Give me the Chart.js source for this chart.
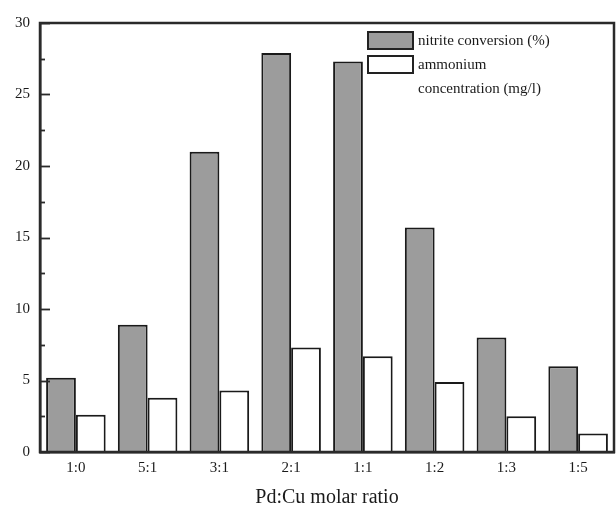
<!DOCTYPE html>
<html>
<head>
<meta charset="utf-8">
<script src="https://cdn.jsdelivr.net/npm/chart.js@4/dist/chart.umd.min.js"></script>
<style>
  body { margin: 0; background: #fff; }
  #wrap { width: 616px; height: 510px; }
</style>
</head>
<body>
<div id="wrap"><canvas id="myChart"></canvas></div>
<script>
const ratios = ['1:0', '5:1', '3:1', '2:1', '1:1', '1:2', '1:3', '1:5']
const nitrite = [5.2, 8.9, 21.0, 27.9, 27.3, 15.7, 8.0, 6.0]
const ammonium = [2.6, 3.8, 4.3, 7.3, 6.7, 4.9, 2.5, 1.3]
const legendNames = [['nitrite conversion (%)'], ['ammonium', 'concentration (mg/l)']]

const FONT = '"Liberation Serif", "DejaVu Serif", serif'

// inward ticks, box frame and the legend
const frame = {
  id: 'frame',
  afterDraw(chart) {
    const ctx = chart.ctx
    const a = chart.chartArea
    const y = chart.scales.y
    ctx.save()
    ctx.strokeStyle = '#2a2a2a'
    ctx.lineWidth = 2.5
    ctx.strokeRect(a.left, a.top, a.right - a.left, a.bottom - a.top)
    ctx.lineWidth = 1.8
    for (let v = 0; v <= 30; v += 2.5) {
      let py = Math.round(y.getPixelForValue(v)) + 0.5
      let len = (v % 5 == 0) ? 10 : 5
      ctx.beginPath()
      ctx.moveTo(a.left, py)
      ctx.lineTo(a.left + len, py)
      ctx.stroke()
    }
    // legend
    const fills = ['#9c9c9c', '#ffffff']
    const boxTop = [32, 56]
    ctx.font = '15px ' + FONT
    ctx.textBaseline = 'middle'
    for (let i = 0; i < 2; i++) {
      ctx.fillStyle = fills[i]
      ctx.fillRect(368, boxTop[i], 45, 17)
      ctx.strokeStyle = '#222'
      ctx.lineWidth = 2
      ctx.strokeRect(368, boxTop[i], 45, 17)
      ctx.fillStyle = '#1a1a1a'
      legendNames[i].forEach((t, j) => {
        ctx.fillText(t, 418, boxTop[i] + 9 + j * 24)
      })
    }
    ctx.restore()
  }
}

const data = {
  labels: ratios,
  datasets: [
    {
      label: legendNames[0].join(' '),
      data: nitrite,
      backgroundColor: '#9c9c9c',
      borderColor: '#1a1a1a',
      borderWidth: 2,
      borderSkipped: 'bottom'
    },
    {
      label: legendNames[1].join(' '),
      data: ammonium,
      backgroundColor: '#ffffff',
      borderColor: '#1a1a1a',
      borderWidth: 2,
      borderSkipped: 'bottom'
    }
  ]
}

const config = {
  type: 'bar',
  data: data,
  options: {
    responsive: false,
    animation: false,
    layout: { padding: { top: 23, right: 2, left: 0, bottom: 0 } },
    datasets: { bar: { categoryPercentage: 0.83, barPercentage: 1.0 } },
    plugins: {
      legend: { display: false },
      tooltip: { enabled: false }
    },
    scales: {
      x: {
        grid: { display: false, drawTicks: false },
        border: { display: true, color: '#2a2a2a', width: 2.5 },
        ticks: { color: '#1a1a1a', font: { family: FONT, size: 15 }, padding: 7 },
        title: {
          display: true,
          text: 'Pd:Cu molar ratio',
          color: '#1a1a1a',
          font: { family: FONT, size: 20 },
          padding: { top: 3, bottom: 0 }
        },
        afterFit(s) { s.height = 58 }
      },
      y: {
        min: 0,
        max: 30,
        grid: { display: false, drawTicks: false },
        border: { display: true, color: '#2a2a2a', width: 2.5 },
        ticks: { stepSize: 5, color: '#1a1a1a', font: { family: FONT, size: 15 }, padding: 10 },
        afterFit(s) { s.width = 40 }
      }
    }
  },
  plugins: [frame]
}

const canvas = document.getElementById('myChart')
canvas.width = 616
canvas.height = 510
const myChart = new Chart(canvas, config)
</script>
</body>
</html>
